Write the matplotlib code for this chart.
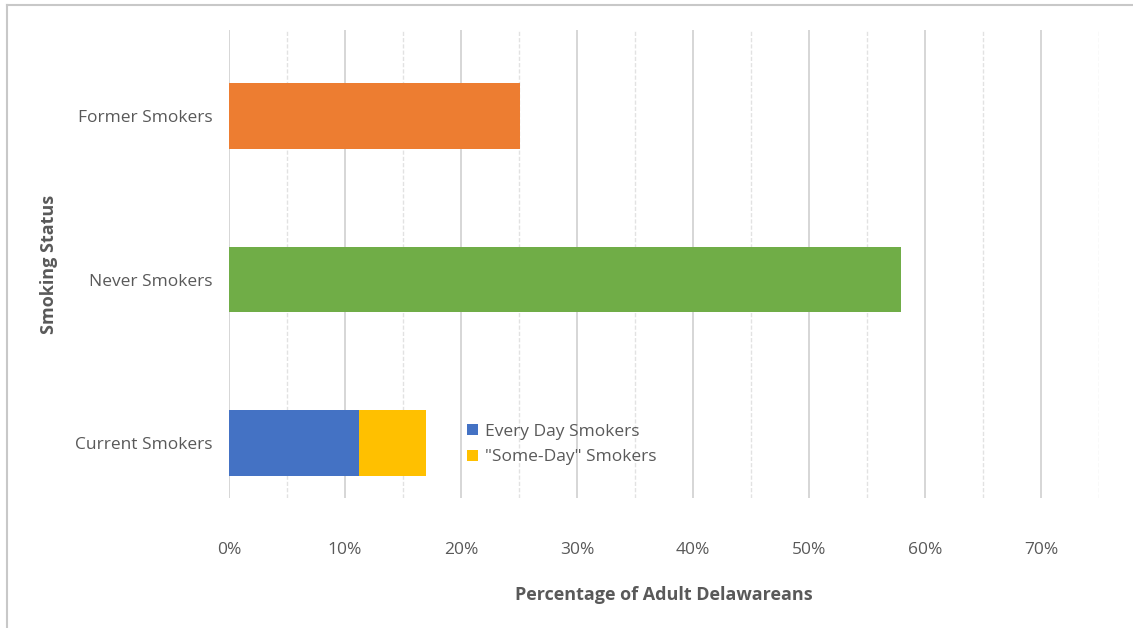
import matplotlib.pyplot as plt
from matplotlib.lines import Line2D
from matplotlib.patches import Patch

# Data (percent of adult Delawareans)
categories = ['Current Smokers', 'Never Smokers', 'Former Smokers']
every_day = [11.2, 0, 0]
some_day = [5.8, 0, 0]
never = [0, 57.9, 0]
former = [0, 0, 25.1]
x_ticks = [0, 10, 20, 30, 40, 50, 60, 70]
x_tick_labels = ['0%', '10%', '20%', '30%', '40%', '50%', '60%', '70%']

blue = '#4472C4'
yellow = '#FFC000'
green = '#70AD47'
orange = '#ED7D31'
text_gray = '#595959'

plt.rcParams['font.family'] = ['Open Sans', 'DejaVu Sans']

fig = plt.figure(figsize=(11.33, 6.28), dpi=100)
ax = fig.add_axes([0.2021, 0.207, 0.7679, 0.745])

ypos = list(range(len(categories)))
h = 0.4
ax.barh(ypos, every_day, height=h, color=blue, zorder=3)
ax.barh(ypos, some_day, left=every_day, height=h, color=yellow, zorder=3)
ax.barh(ypos, never, height=h, color=green, zorder=3)
ax.barh(ypos, former, height=h, color=orange, zorder=3)

ax.set_xlim(0, 75)
ax.set_ylim(-0.336, 2.526)

# gridlines: solid at 10%, dashed at 5%
for x in range(0, 76, 5):
    if x % 10 == 0:
        ax.axvline(x, color='#d0d0d0', lw=1.2, zorder=1)
    else:
        ax.axvline(x, color='#e2e2e2', lw=1.0, ls=(0, (3, 1.5)), zorder=1)

ax.set_xticks(x_ticks)
ax.set_xticklabels(x_tick_labels, color=text_gray, fontsize=12.5)
ax.set_yticks(ypos)
ax.set_yticklabels(categories, color=text_gray, fontsize=12.5)
ax.tick_params(axis='x', length=0, pad=32)
ax.tick_params(axis='y', length=0, pad=12)
for s in ax.spines.values():
    s.set_visible(False)

ax.set_xlabel('Percentage of Adult Delawareans', fontsize=13, fontweight='bold',
              color=text_gray, labelpad=20)
ax.set_ylabel('Smoking Status', fontsize=13, fontweight='bold',
              color=text_gray, labelpad=12)

handles = [Patch(facecolor=blue, label='Every Day Smokers'),
           Patch(facecolor=yellow, label='"Some-Day" Smokers')]
leg = ax.legend(handles=handles, loc='center left', bbox_to_anchor=(0.256, 0.114),
                frameon=False, fontsize=12.5, handlelength=0.6, handleheight=0.6,
                handletextpad=0.4, labelspacing=0.55)
for t in leg.get_texts():
    t.set_color(text_gray)

# outer border (top and left visible)
fig.add_artist(Line2D([7 / 1133, 7 / 1133], [0, 1 - 5 / 628], color='#c8c8c8', lw=1.5))
fig.add_artist(Line2D([7 / 1133, 1], [1 - 5 / 628, 1 - 5 / 628], color='#c8c8c8', lw=1.5))

plt.savefig('out.png', dpi=100, facecolor='white')
